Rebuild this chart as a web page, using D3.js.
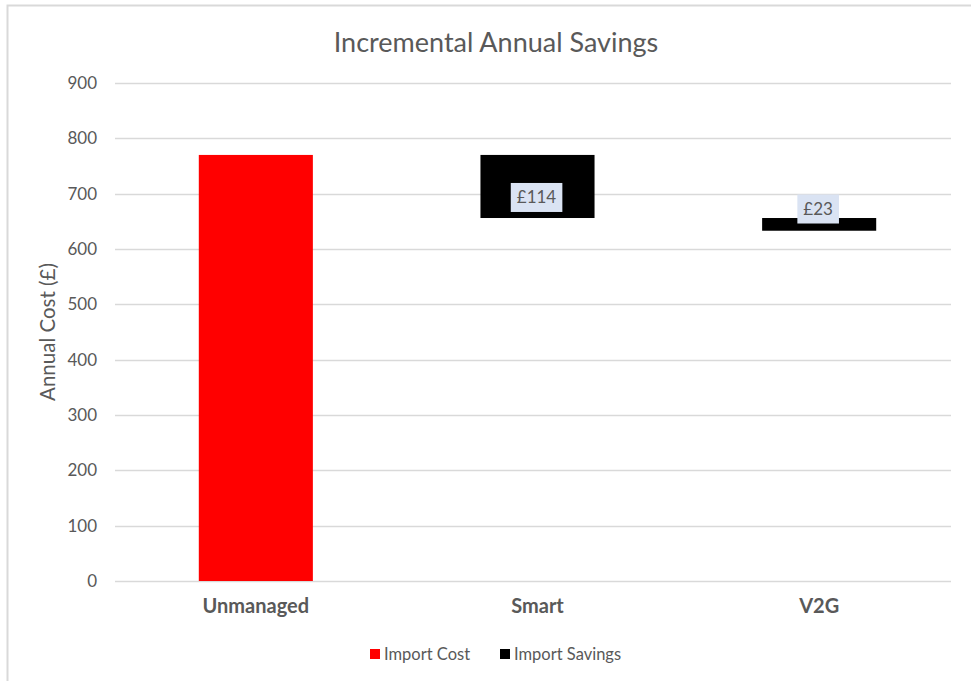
<!DOCTYPE html>
<html>
<head>
<meta charset="utf-8">
<script src="https://cdn.jsdelivr.net/npm/d3@7"></script>
<style>
body{margin:0;background:#fff;}
text{font-family:Lato,"Open Sans",sans-serif;}
</style>
</head>
<body>
<div class="canvas"></div>
<script>
//data
var categories = ['Unmanaged','Smart','V2G'];
var baseValues = [0, 656, 633];      // bottom of each bar
var barValues = [770, 114, 23];      // height of each bar
var barSeries = ['Import Cost','Import Savings','Import Savings'];
var barLabels = [null, '£114', '£23'];
var legendNames = ['Import Cost','Import Savings'];
var yTicks = [0,100,200,300,400,500,600,700,800,900];

var W = 971, H = 681;
var margin = {t:83,r:11,b:100,l:115};
var width = W-margin.l-margin.r,
	height = H-margin.t-margin.b;

var colors = {'Import Cost':'#ff0000','Import Savings':'#000000'};

var svg = d3.select('.canvas')
	.append('svg')
	.attr('width',W)
	.attr('height',H);

//chart frame (only top and left edges show)
svg.append('path')
	.attr('d','M7.5,'+H+' V5.5 H'+W)
	.attr('fill','none')
	.attr('stroke','#d9d9d9')
	.attr('stroke-width',2);

svg.append('text')
	.attr('x',496)
	.attr('y',52)
	.attr('text-anchor','middle')
	.style('font-size','27px')
	.style('fill','#595959')
	.text('Incremental Annual Savings');

var plot = svg.append('g')
	.attr('transform','translate('+margin.l+','+margin.t+')');

var x = d3.scaleBand().domain(categories).range([0,width]).padding(0);
var y = d3.scaleLinear().domain([0,900]).range([height,0]);

//gridlines
plot.append('g')
	.selectAll('line')
	.data(yTicks)
	.enter()
	.append('line')
	.attr('x1',0)
	.attr('x2',width-9)
	.attr('y1',function(d){return Math.round(y(d))+0.5;})
	.attr('y2',function(d){return Math.round(y(d))+0.5;})
	.attr('stroke','#d9d9d9')
	.attr('stroke-width',1.3);

var yAxis = plot.append('g')
	.call(d3.axisLeft(y).tickValues(yTicks).tickSize(0).tickPadding(18));
yAxis.select('.domain').remove();
yAxis.selectAll('text')
	.style('font-family','Lato,"Open Sans",sans-serif')
	.style('font-size','17px')
	.style('fill','#595959');

var xAxis = plot.append('g')
	.attr('transform','translate(0,'+height+')')
	.call(d3.axisBottom(x).tickSize(0).tickPadding(18));
xAxis.select('.domain').remove();
xAxis.selectAll('text')
	.style('font-family','Lato,"Open Sans",sans-serif')
	.style('font-size','20px')
	.style('font-weight','bold')
	.style('fill','#595959');

//bars
var barW = x.bandwidth()*0.405;
categories.forEach(function(c,i){
	var top = y(baseValues[i]+barValues[i]),
		bottom = y(baseValues[i]);
	plot.append('rect')
		.attr('x',x(c)+x.bandwidth()/2-barW/2)
		.attr('y',top)
		.attr('width',barW)
		.attr('height',bottom-top)
		.style('fill',colors[barSeries[i]]);
});

//value labels
categories.forEach(function(c,i){
	if(!barLabels[i]) return;
	var top = y(baseValues[i]+barValues[i]),
		bottom = y(baseValues[i]);
	var cy = i==1 ? (top+bottom)/2+11 : top-9;
	var cx = x(c)+x.bandwidth()/2-1;
	var g = plot.append('g');
	var box = g.append('rect');
	var t = g.append('text')
		.attr('x',cx)
		.attr('y',cy+6)
		.attr('text-anchor','middle')
		.style('font-size','17px')
		.style('fill','#595959')
		.text(barLabels[i]);
	var bb = t.node().getBBox();
	box.attr('x',bb.x-6)
		.attr('y',cy-14.5)
		.attr('width',bb.width+12)
		.attr('height',29)
		.style('fill','#dae3f3');
});

//y axis title
svg.append('text')
	.attr('transform','translate(55,332) rotate(-90)')
	.attr('text-anchor','middle')
	.style('font-size','20.5px')
	.style('fill','#595959')
	.text('Annual Cost (£)');

//legend
var legX = [370, 500];
legendNames.forEach(function(n,i){
	svg.append('rect')
		.attr('x',legX[i])
		.attr('y',649)
		.attr('width',10)
		.attr('height',10)
		.style('fill',colors[n]);
	svg.append('text')
		.attr('x',legX[i]+14)
		.attr('y',660)
		.style('font-size','16.5px')
		.style('fill','#595959')
		.text(n);
});
</script>
</body>
</html>
